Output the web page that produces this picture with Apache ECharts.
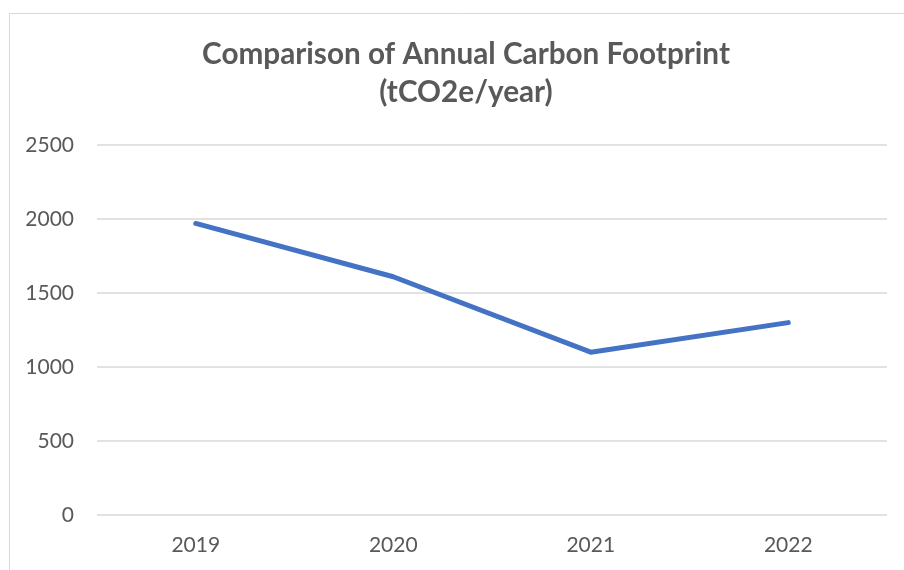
<!DOCTYPE html>
<html><head><meta charset="utf-8">
<script src="https://cdn.jsdelivr.net/npm/echarts@6/dist/echarts.min.js"></script>
<style>html,body{margin:0;padding:0;background:#fff}#c{width:904px;height:570px}</style>
</head><body><div id="c"></div>
<script>
const categories = ['2019', '2020', '2021', '2022'];
const footprint = [1970, 1610, 1100, 1300];
const titleText = 'Comparison of Annual Carbon Footprint\n(tCO2e/year)';
const FONT = 'Lato';
const chart = echarts.init(document.getElementById('c'), null, {renderer: 'canvas'});
chart.setOption({
  animation: false,
  backgroundColor: '#fff',
  graphic: [{type: 'rect', shape: {x: 9.5, y: 13.5, width: 1000, height: 1000}, style: {fill: 'none', stroke: '#d9d9d9', lineWidth: 1}, silent: true}],
  title: {
    text: titleText, left: 461, top: 30, textAlign: 'center',
    textStyle: {fontFamily: FONT, fontSize: 29.7, fontWeight: 'bold', color: '#595959', lineHeight: 38}
  },
  grid: {left: 97, right: 17, top: 145, bottom: 55, containLabel: false},
  xAxis: {
    type: 'category', data: categories, boundaryGap: true,
    axisLine: {show: false}, axisTick: {show: false},
    axisLabel: {fontFamily: FONT, fontSize: 21, color: '#595959', margin: 20}
  },
  yAxis: {
    type: 'value', min: 0, max: 2500, interval: 500,
    axisLine: {show: false}, axisTick: {show: false},
    splitLine: {lineStyle: {color: '#d9d9d9', width: 1.5}},
    axisLabel: {fontFamily: FONT, fontSize: 21, color: '#595959', margin: 23, formatter: v => String(v)}
  },
  series: [{
    type: 'line', data: footprint, symbol: 'none',
    lineStyle: {color: '#4472C4', width: 5, cap: 'round', join: 'round'}
  }]
});
</script></body></html>
